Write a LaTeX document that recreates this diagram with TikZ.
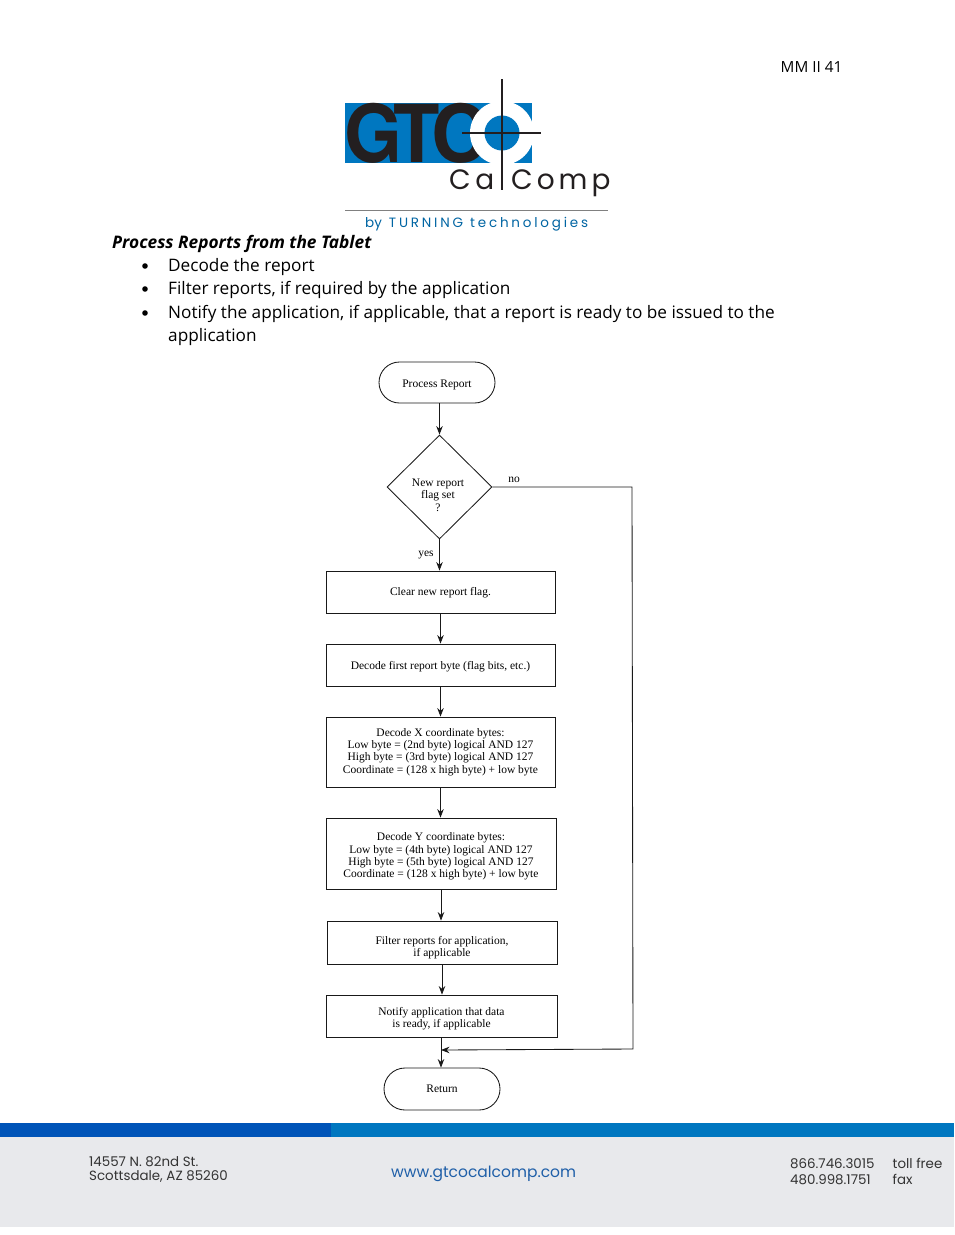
\documentclass[tikz,border=0pt]{standalone}
\usepackage{fontspec}
\setmainfont{Open Sans}
\newfontfamily\flowfont{Liberation Serif}
\newfontfamily\logofont{TeX Gyre Heros}
\newfontfamily\footfont{Poppins}
\usetikzlibrary{shapes.geometric,shapes.misc,arrows.meta}
\definecolor{logoblue}{HTML}{0077C0}
\definecolor{logodark}{HTML}{231F20}
\definecolor{barblue}{HTML}{0054B8}
\definecolor{footgrey}{HTML}{E8E9EC}
\definecolor{linkblue}{HTML}{1F5FA8}
\newcommand{\lowerby}[1]{\rule{0pt}{\dimexpr 8pt+2\dimexpr #1pt\relax\relax}}
\tikzset{
  x=1pt,y=-1pt,
  flowbox/.style={draw=black!90,line width=.85pt,rectangle,inner sep=0pt,align=center,font=\flowfont\fontsize{11.5}{12.2}\selectfont},
  terminal/.style={draw=black!90,line width=.85pt,rounded rectangle,inner sep=0pt,font=\flowfont\fontsize{11.5}{12.2}\selectfont},
  decision/.style={draw=black!90,line width=.85pt,diamond,inner sep=0pt,minimum width=105pt,minimum height=104pt},
  flowtext/.style={inner sep=0pt,align=center,font=\flowfont\fontsize{11.5}{12.4}\selectfont},
  flowarrow/.style={draw=black!90,line width=.85pt,-{Stealth[length=8.5pt,width=6.5pt]}},
  bodytext/.style={inner sep=0pt,anchor=base west,font=\fontsize{17.2}{17.2}\selectfont},
  foottext/.style={inner sep=0pt,anchor=base west,text=black!80,font=\footfont\fontsize{13.4}{13.4}\selectfont},
  logoletter/.style={inner sep=0pt,anchor=base west,text=logodark,font=\logofont\bfseries\fontsize{80}{80}\selectfont},
}
\begin{document}
\begin{tikzpicture}
\useasboundingbox (0,0) rectangle (954,1235);
\fill[white] (0,0) rectangle (954,1235);

% header
\node[inner sep=0pt,anchor=base east,font=\fontsize{15.3}{15.3}\selectfont] (pagenum) at (842.5,72) {MM II 41};

% logo
\fill[logoblue] (345,103) rectangle (532,163);
\node[logoletter,xscale=.93] (logoG) at (344,162) {G};
\node[logoletter,xscale=.95] (logoT) at (393,162) {T};
\node[logoletter,xscale=.98] (logoC) at (431,162) {C};
\fill[white] (502,133) circle (32);
\fill[logoblue] (502,133) circle (17.5);
\draw[logodark,line width=1.2pt] (502,79) -- (502,190);
\draw[logodark,line width=1.2pt] (462,133) -- (541,133);
\node[inner sep=0pt,anchor=base west,text=logodark,font=\footfont\fontsize{28}{28}\selectfont] (logoCa) at (449,189) {C\kern 4.5pt a};
\node[inner sep=0pt,anchor=base west,text=logodark,font=\footfont\fontsize{28}{28}\selectfont] (logoComp) at (511,189) {C\kern 4pt o\kern 4pt m\kern 4pt p};
\draw[black!50,line width=.8pt] (345,210) -- (608,210);
\node[inner sep=0pt,anchor=base west,text=logoblue!85!black,font=\footfont\fontsize{13.5}{13.5}\selectfont] (logoby) at (365,227) {by\kern 7pt T\kern 2.8pt U\kern 2.8pt R\kern 2.8pt N\kern 2.8pt I\kern 2.8pt N\kern 2.8pt G\kern 7pt t\kern 2.8pt e\kern 2.8pt c\kern 2.8pt h\kern 2.8pt n\kern 2.8pt o\kern 2.8pt l\kern 2.8pt o\kern 2.8pt g\kern 2.8pt i\kern 2.8pt e\kern 2.8pt s};

% body text
\node[bodytext,font=\bfseries\itshape\fontsize{17.3}{17.3}\selectfont] (heading) at (112,248) {Process Reports from the Tablet};
\fill (145,266) circle (2.8);
\fill (145,289) circle (2.8);
\fill (145,313) circle (2.8);
\node[bodytext] (b1) at (168,271) {Decode the report};
\node[bodytext] (b2) at (168,294) {Filter reports, if required by the application};
\node[bodytext] (b3) at (168,318) {Notify the application, if applicable, that a report is ready to be issued to the};
\node[bodytext] (b3b) at (168,341) {application};

% flowchart
\node[terminal,minimum width=116pt,minimum height=41pt] (start) at (437,382.5) {\lowerby{2.5}Process Report};
\node[decision] (test) at (439.5,487) {};
\node[flowtext] (testtext) at (438,495) {New report\\flag set\\?};
\node[flowbox,minimum width=229pt,minimum height=42pt] (clear) at (440.5,592) {\lowerby{1}Clear new report flag.};
\node[flowbox,minimum width=229pt,minimum height=42pt] (first) at (440.5,665) {\lowerby{1.5}Decode first report byte (flag bits, etc.)};
\node[flowbox,minimum width=229pt,minimum height=70pt] (xbytes) at (440.5,752) {Decode X coordinate bytes:\\Low byte = (2nd byte) logical AND 127\\High byte = (3rd byte) logical AND 127\\Coordinate = (128 x high byte) + low byte};
\node[flowbox,minimum width=230pt,minimum height=71pt] (ybytes) at (441,853.5) {\lowerby{3}Decode Y coordinate bytes:\\Low byte = (4th byte) logical AND 127\\High byte = (5th byte) logical AND 127\\Coordinate = (128 x high byte) + low byte};
\node[flowbox,minimum width=230pt,minimum height=43pt] (filter) at (442,942.5) {\lowerby{5}Filter reports for application,\\if applicable};
\node[flowbox,minimum width=231pt,minimum height=42pt] (notify) at (441.5,1016) {\lowerby{3}Notify application that data\\is ready, if applicable};
\node[terminal,minimum width=116pt,minimum height=42pt] (return) at (442,1089) {Return};

\node[flowtext] (yes) at (426,552) {\lowerby{2}yes};
\node[flowtext] (no) at (514,479.5) {no};

\coordinate (merge) at (441,1050);
\coordinate (cornerA) at (632,487);
\coordinate (cornerB) at (633,1049);

\draw[flowarrow] (start.south -| test.north) -- (test.north);
\draw[flowarrow] (test.south) -- (test.south |- clear.north);
\draw[flowarrow] (clear.south) -- (first.north);
\draw[flowarrow] (first.south) -- (xbytes.north);
\draw[flowarrow] (xbytes.south) -- (xbytes.south |- ybytes.north);
\draw[flowarrow] (ybytes.south) -- (ybytes.south |- filter.north);
\draw[flowarrow] (filter.south) -- (filter.south |- notify.north);
\draw[flowarrow] (notify.south -| merge) -- (merge |- return.north);
\draw[flowarrow] (test.east) -- (cornerA) -- (cornerB) -- (merge);

% footer
\fill[logoblue] (0,1123) rectangle (954,1136.5);
\fill[barblue] (0,1123) rectangle (331,1136.5);
\fill[footgrey] (0,1136.5) rectangle (954,1227);
\node[foottext] (addr1) at (89,1166) {14557 N. 82nd St.};
\node[foottext] (addr2) at (89,1180.5) {Scottsdale, AZ 85260};
\node[foottext,text=linkblue,font=\footfont\fontsize{15.5}{15.5}\selectfont] (web) at (391,1177) {www.gtcocalcomp.com};
\node[foottext] (tel1) at (790,1168) {866.746.3015};
\node[foottext] (tel2) at (790,1184) {480.998.1751};
\node[foottext] (tel1b) at (892.5,1168) {toll free};
\node[foottext] (tel2b) at (892.5,1184) {fax};
\end{tikzpicture}
\end{document}
